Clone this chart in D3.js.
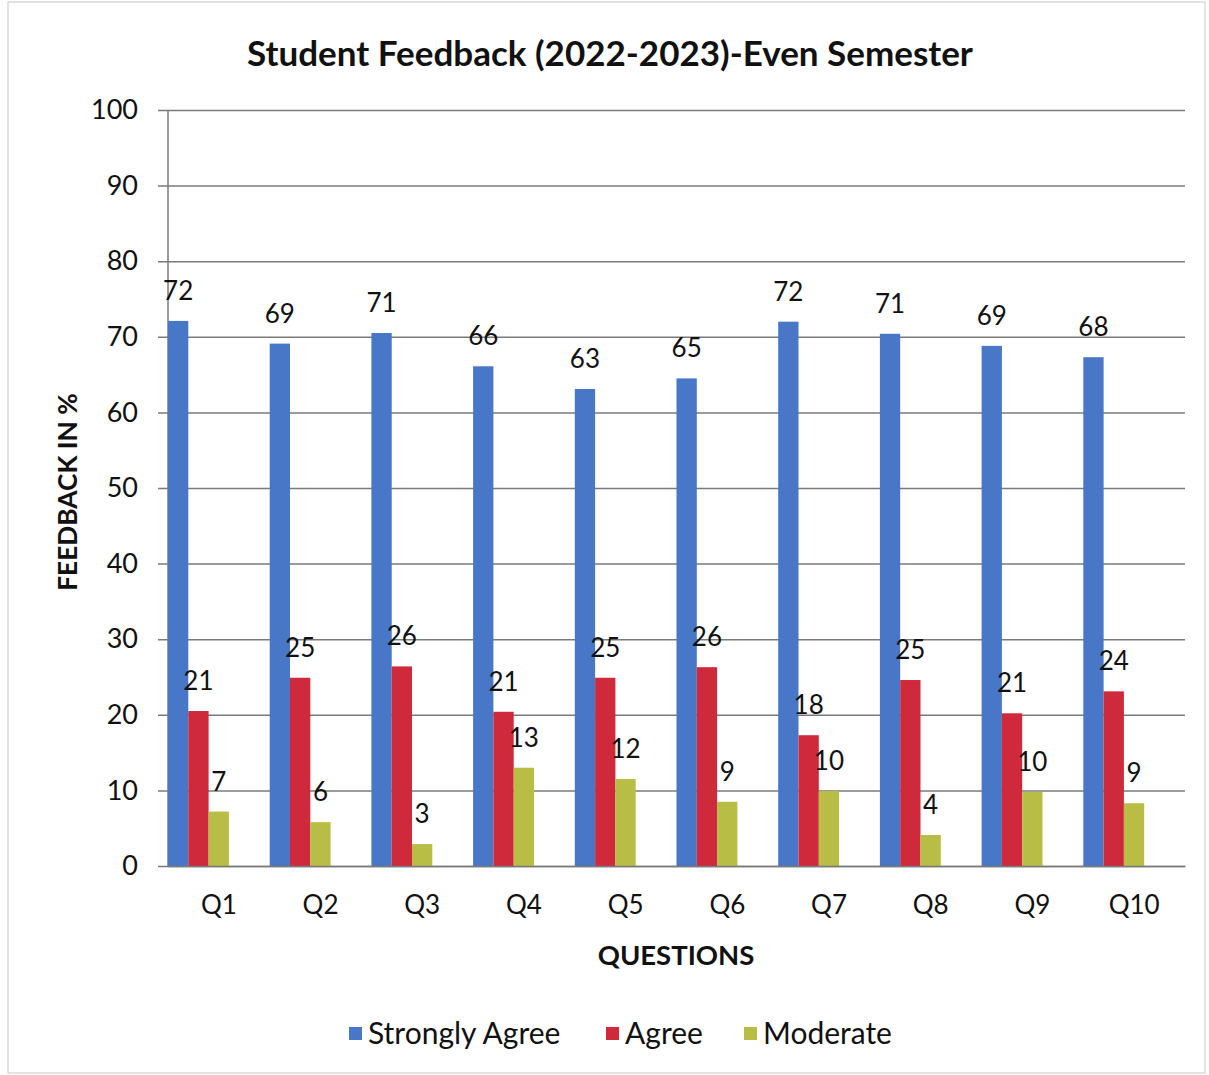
<!DOCTYPE html>
<html>
<head>
<meta charset="utf-8">
<script src="https://cdn.jsdelivr.net/npm/d3@7"></script>
<style>
  body { margin: 0; background: #fff; }
  svg { display: block; font-family: Lato, "Open Sans", sans-serif; }
</style>
</head>
<body>
<div id="chart"></div>
<script>
// data
var questions = ["Q1", "Q2", "Q3", "Q4", "Q5", "Q6", "Q7", "Q8", "Q9", "Q10"]
var seriesNames = ["Strongly Agree", "Agree", "Moderate"]
var stronglyAgree = [72.1, 69.1, 70.5, 66.1, 63.1, 64.5, 72.0, 70.4, 68.8, 67.3]
var agree = [20.5, 24.9, 26.4, 20.4, 24.9, 26.3, 17.3, 24.6, 20.2, 23.1]
var moderate = [7.2, 5.8, 2.9, 13.0, 11.5, 8.5, 9.9, 4.1, 9.8, 8.3]
// labels printed on the chart
var stronglyAgreeLabels = [72, 69, 71, 66, 63, 65, 72, 71, 69, 68]
var agreeLabels = [21, 25, 26, 21, 25, 26, 18, 25, 21, 24]
var moderateLabels = [7, 6, 3, 13, 12, 9, 10, 4, 10, 9]
var yTicks = [0, 10, 20, 30, 40, 50, 60, 70, 80, 90, 100]

var colors = ["#4777c6", "#cf2a3c", "#b8bd45"]

var width = 1209, height = 1075
var margin = {left: 168, right: 24, top: 110, bottom: 209}

var series = [
  {name: seriesNames[0], values: stronglyAgree, labels: stronglyAgreeLabels},
  {name: seriesNames[1], values: agree, labels: agreeLabels},
  {name: seriesNames[2], values: moderate, labels: moderateLabels}
]

var svg = d3.select("#chart").append("svg")
  .attr("width", width)
  .attr("height", height)

// outer frame
svg.append("rect")
  .attr("x", 8).attr("y", 2)
  .attr("width", width - 12).attr("height", height - 4)
  .attr("fill", "none")
  .attr("stroke", "#c8c8c8")

var x = d3.scaleBand()
  .domain(questions)
  .range([margin.left, width - margin.right])

var y = d3.scaleLinear()
  .domain([0, 100])
  .range([height - margin.bottom, margin.top])

var barW = 20.3

// gridlines + y ticks
var yAxis = d3.axisLeft(y)
  .tickValues(yTicks)
  .tickSize(-(width - margin.right - margin.left) - 10)
  .tickPadding(20)

var gy = svg.append("g")
  .attr("transform", "translate(" + margin.left + ",0)")
  .call(yAxis)
gy.select(".domain").remove()
gy.selectAll(".tick line")
  .attr("x1", -10)
  .attr("x2", width - margin.right - margin.left)
  .attr("stroke", "#7a7a7a")
  .attr("stroke-width", 1.5)
gy.selectAll(".tick text")
  .attr("x", -30)
  .attr("font-size", 27)
  .attr("fill", "#111")
  .style("font-family", "Lato, sans-serif")

// y axis line
svg.append("line")
  .attr("x1", margin.left).attr("x2", margin.left)
  .attr("y1", y(100)).attr("y2", y(0))
  .attr("stroke", "#7a7a7a")
  .attr("stroke-width", 1.5)

// bars
series.forEach(function (s, i) {
  var g = svg.append("g")
  g.selectAll("rect")
    .data(s.values)
    .enter()
    .append("rect")
    .attr("x", function (d, j) { return x(questions[j]) + i * barW })
    .attr("y", function (d) { return y(d) })
    .attr("width", barW)
    .attr("height", function (d) { return y(0) - y(d) })
    .attr("fill", colors[i])

  g.selectAll("text")
    .data(s.values)
    .enter()
    .append("text")
    .attr("x", function (d, j) { return x(questions[j]) + i * barW + barW / 2 })
    .attr("y", function (d) { return y(d) - 21 })
    .attr("text-anchor", "middle")
    .attr("font-size", 26)
    .attr("fill", "#111")
    .text(function (d, j) { return s.labels[j] })
})

// x axis
var xAxis = d3.axisBottom(x).tickSize(0).tickPadding(30)
var gx = svg.append("g")
  .attr("transform", "translate(0," + y(0) + ")")
  .call(xAxis)
gx.select(".domain")
  .attr("stroke", "#7a7a7a")
  .attr("stroke-width", 1.5)
gx.selectAll(".tick text")
  .attr("font-size", 26)
  .attr("fill", "#111")
  .style("font-family", "Lato, sans-serif")

// title
svg.append("text")
  .attr("x", 610).attr("y", 66)
  .attr("text-anchor", "middle")
  .attr("font-size", 35)
  .attr("font-weight", "bold")
  .attr("fill", "#111")
  .text("Student Feedback (2022-2023)-Even Semester")

// axis titles
svg.append("text")
  .attr("x", 676).attr("y", 965)
  .attr("text-anchor", "middle")
  .attr("font-size", 27.5)
  .attr("font-weight", "bold")
  .attr("fill", "#111")
  .text("QUESTIONS")

svg.append("text")
  .attr("transform", "translate(77,492) rotate(-90)")
  .attr("text-anchor", "middle")
  .attr("font-size", 26.3)
  .attr("font-weight", "bold")
  .attr("fill", "#111")
  .text("FEEDBACK IN %")

// legend
var legendX = [349, 606, 744]
var legend = svg.append("g")
series.forEach(function (s, i) {
  legend.append("rect")
    .attr("x", legendX[i]).attr("y", 1027)
    .attr("width", 13).attr("height", 13)
    .attr("fill", colors[i])
  legend.append("text")
    .attr("x", legendX[i] + 19).attr("y", 1044)
    .attr("font-size", 30)
    .attr("fill", "#111")
    .text(s.name)
})
</script>
</body>
</html>
